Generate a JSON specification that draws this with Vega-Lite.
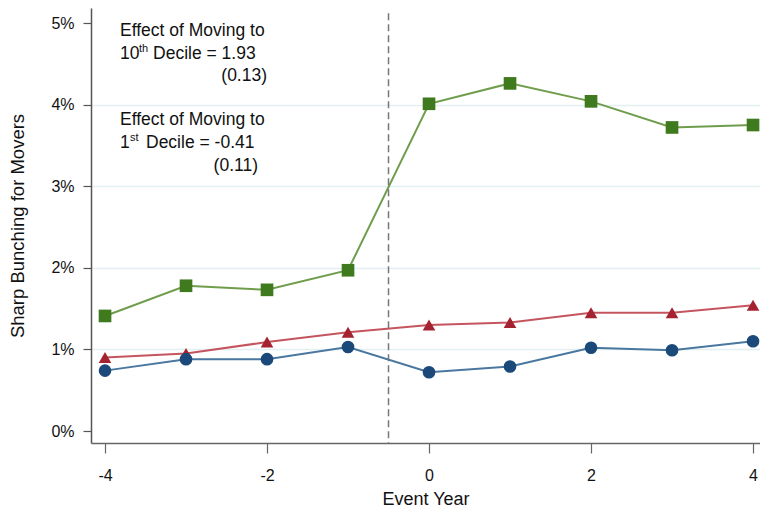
{
  "$schema": "https://vega.github.io/schema/vega-lite/v6.json",
  "width": 669,
  "height": 435,
  "autosize": {"type": "none"},
  "padding": {"left": 91, "top": 8, "right": 0, "bottom": 62},
  "background": "white",
  "config": {"view": {"stroke": null}, "font": "Liberation Sans"},
  "datasets": {
    "series": [
      {"year": -4, "val": 1.41, "s": "top"},
      {"year": -3, "val": 1.78, "s": "top"},
      {"year": -2, "val": 1.73, "s": "top"},
      {"year": -1, "val": 1.97, "s": "top"},
      {"year": 0, "val": 4.01, "s": "top"},
      {"year": 1, "val": 4.26, "s": "top"},
      {"year": 2, "val": 4.04, "s": "top"},
      {"year": 3, "val": 3.72, "s": "top"},
      {"year": 4, "val": 3.75, "s": "top"},
      {"year": -4, "val": 0.90, "s": "mid"},
      {"year": -3, "val": 0.95, "s": "mid"},
      {"year": -2, "val": 1.09, "s": "mid"},
      {"year": -1, "val": 1.21, "s": "mid"},
      {"year": 0, "val": 1.30, "s": "mid"},
      {"year": 1, "val": 1.33, "s": "mid"},
      {"year": 2, "val": 1.45, "s": "mid"},
      {"year": 3, "val": 1.45, "s": "mid"},
      {"year": 4, "val": 1.54, "s": "mid"},
      {"year": -4, "val": 0.74, "s": "low"},
      {"year": -3, "val": 0.88, "s": "low"},
      {"year": -2, "val": 0.88, "s": "low"},
      {"year": -1, "val": 1.03, "s": "low"},
      {"year": 0, "val": 0.72, "s": "low"},
      {"year": 1, "val": 0.79, "s": "low"},
      {"year": 2, "val": 1.02, "s": "low"},
      {"year": 3, "val": 0.99, "s": "low"},
      {"year": 4, "val": 1.10, "s": "low"}
    ],
    "notesLeft": [
      {"t": "Effect of Moving to", "x": -3.815, "y": 4.90},
      {"t": "10", "x": -3.815, "y": 4.626},
      {"t": "Decile = 1.93", "x": -3.407, "y": 4.626},
      {"t": "Effect of Moving to", "x": -3.815, "y": 3.81},
      {"t": "1", "x": -3.815, "y": 3.53},
      {"t": "Decile = -0.41", "x": -3.494, "y": 3.53}
    ],
    "notesRight": [
      {"t": "(0.13)", "x": -2.0, "y": 4.35},
      {"t": "(0.11)", "x": -2.111, "y": 3.25}
    ],
    "sups": [
      {"t": "th", "x": -3.58, "y": 4.68},
      {"t": "st", "x": -3.691, "y": 3.585}
    ]
  },
  "layer": [
    {
      "data": {"name": "series"},
      "mark": {"type": "line", "strokeWidth": 2},
      "encoding": {
        "x": {
          "field": "year", "type": "quantitative",
          "scale": {"domain": [-4.173, 4.086], "nice": false, "zero": false},
          "axis": {
            "values": [-4, -2, 0, 2, 4], "grid": false, "labelExpr": "'' + datum.value",
            "domainColor": "#666", "domainWidth": 1.5,
            "tickColor": "#666", "tickSize": 10, "tickWidth": 1.2,
            "labelFontSize": 16, "labelPadding": 14, "labelColor": "#111",
            "title": "Event Year", "titleFontSize": 18, "titleFontWeight": "normal",
            "titleColor": "#111", "titlePadding": 7
          }
        },
        "y": {
          "field": "val", "type": "quantitative",
          "scale": {"domain": [-0.147, 5.184], "nice": false, "zero": false},
          "axis": {
            "values": [0, 1, 2, 3, 4, 5], "labelExpr": "datum.value + '%'",
            "grid": true, "gridColor": "#e4eff1", "gridWidth": 1.5,
            "gridOpacity": {"condition": {"test": "datum.value == 0 || datum.value == 5", "value": 0}, "value": 1},
            "domainColor": "#555", "domainWidth": 1.5,
            "tickColor": "#555", "tickSize": 8, "tickWidth": 1.2,
            "labelFontSize": 16, "labelPadding": 9, "labelColor": "#111",
            "title": "Sharp Bunching for Movers", "titleFontSize": 18.5, "titleFontWeight": "normal",
            "titleColor": "#111", "titlePadding": 23
          }
        },
        "stroke": {
          "field": "s", "type": "nominal", "legend": null,
          "scale": {"domain": ["top", "mid", "low"], "range": ["#6f9d4c", "#c4555f", "#4a77a0"]}
        }
      }
    },
    {
      "data": {"name": "series"},
      "mark": {"type": "point", "filled": true, "opacity": 1, "size": 160},
      "encoding": {
        "x": {"field": "year", "type": "quantitative"},
        "y": {"field": "val", "type": "quantitative"},
        "fill": {
          "field": "s", "type": "nominal", "legend": null,
          "scale": {"domain": ["top", "mid", "low"], "range": ["#3f7a1e", "#a52230", "#1b4a7a"]}
        },
        "shape": {
          "field": "s", "type": "nominal", "legend": null,
          "scale": {"domain": ["top", "mid", "low"], "range": ["square", "triangle-up", "circle"]}
        }
      }
    },
    {
      "data": {"values": [{"x": -0.5}]},
      "mark": {"type": "rule", "color": "#777", "strokeWidth": 1.5, "strokeDash": [7, 4]},
      "encoding": {
        "x": {"field": "x", "type": "quantitative"},
        "y": {"datum": 5.12},
        "y2": {"datum": -0.147}
      }
    },
    {
      "data": {"name": "notesLeft"},
      "mark": {"type": "text", "fontSize": 17.5, "baseline": "middle", "align": "left", "color": "#111"},
      "encoding": {
        "x": {"field": "x", "type": "quantitative"},
        "y": {"field": "y", "type": "quantitative"},
        "text": {"field": "t"}
      }
    },
    {
      "data": {"name": "notesRight"},
      "mark": {"type": "text", "fontSize": 17.5, "baseline": "middle", "align": "right", "color": "#111"},
      "encoding": {
        "x": {"field": "x", "type": "quantitative"},
        "y": {"field": "y", "type": "quantitative"},
        "text": {"field": "t"}
      }
    },
    {
      "data": {"name": "sups"},
      "mark": {"type": "text", "fontSize": 11, "baseline": "middle", "align": "left", "color": "#111"},
      "encoding": {
        "x": {"field": "x", "type": "quantitative"},
        "y": {"field": "y", "type": "quantitative"},
        "text": {"field": "t"}
      }
    }
  ]
}
